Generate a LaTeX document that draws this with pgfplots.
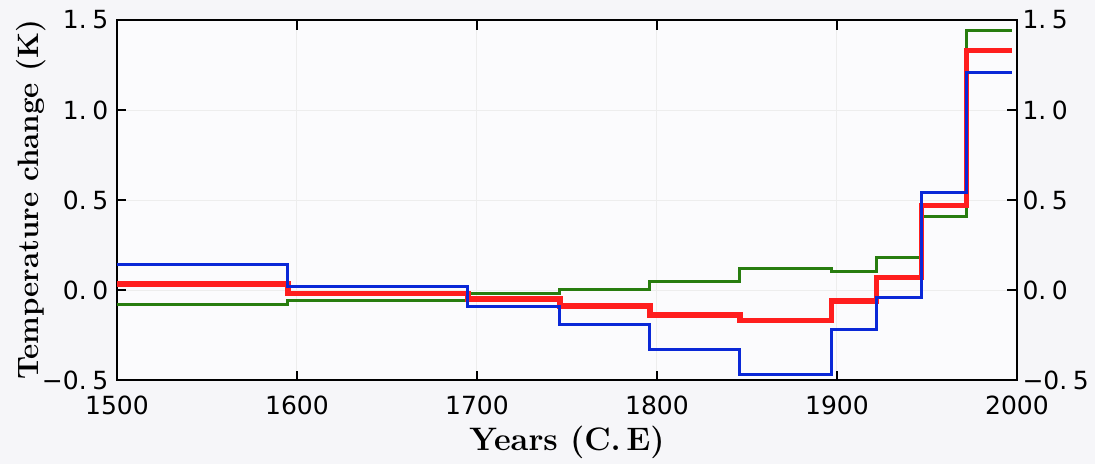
\documentclass[border=0pt]{standalone}
\usepackage{pgfplots}
\pgfplotsset{compat=1.18}
\usepackage{fontspec}
\newfontfamily\dejavu{DejaVu Sans}
\definecolor{bgc}{RGB}{246,246,249}
\definecolor{cblue}{RGB}{10,40,215}
\definecolor{cred}{RGB}{255,30,30}
\definecolor{cgreen}{RGB}{40,125,15}
\newcommand{\dg}{\hspace{0.22em}}
\begin{document}
\begin{tikzpicture}
\fill[bgc] (-46.8pt,-33.6pt) rectangle (391.2pt,152pt);
\begin{axis}[
  at={(0,0)}, anchor=south west,
  scale only axis, width=360pt, height=144pt,
  xmin=1500, xmax=2000, ymin=-0.5, ymax=1.5,
  xtick={1500,1600,1700,1800,1900,2000},
  xticklabels={1500,1600,1700,1800,1900,2000},
  ytick={-0.5,0,0.5,1,1.5},
  yticklabels={−0.\dg5,0.\dg0,0.\dg5,1.\dg0,1.\dg5},
  tick align=inside, major tick length=3.8pt,
  tick style={black, line width=0.6pt},
  ticklabel style={font=\dejavu\fontsize{10}{12}\selectfont},
  xticklabel style={yshift=-5pt, inner sep=1pt},
  axis line style={line width=0.7pt},
  grid=major, major grid style={black!7, line width=0.4pt},
  axis background/.style={fill=white!60!bgc},
  xlabel={\bfseries Years (C.\,E)},
  ylabel={\bfseries Temperature change (K)},
  xlabel style={font=\fontsize{13}{15}\selectfont, inner sep=1pt,
    at={(axis description cs:0.5,-0.172)}, anchor=center},
  ylabel style={font=\fontsize{11.8}{14}\selectfont, inner sep=1pt,
    at={(axis description cs:-0.095,0.5)}, anchor=center},
  const plot,
]
\addplot[cgreen, line width=1.2pt] coordinates {
  (1500,-0.08)(1595,-0.06)(1695,-0.02)(1746,0.005)(1796,0.05)(1846,0.12)
  (1897,0.105)(1922,0.18)(1947,0.41)(1972,1.44)(1997,1.44)};
\addplot[cred, line width=2.2pt] coordinates {
  (1500,0.033)(1595,-0.02)(1695,-0.05)(1746,-0.09)(1796,-0.14)(1846,-0.17)
  (1897,-0.06)(1922,0.07)(1947,0.47)(1972,1.33)(1997,1.33)};
\addplot[cblue, line width=1.2pt] coordinates {
  (1500,0.14)(1595,0.017)(1695,-0.09)(1746,-0.19)(1796,-0.33)(1846,-0.47)
  (1897,-0.22)(1922,-0.04)(1947,0.54)(1972,1.21)(1997,1.21)};
\end{axis}
\begin{axis}[
  at={(0,0)}, anchor=south west,
  scale only axis, width=360pt, height=144pt,
  xmin=1500, xmax=2000, ymin=-0.5, ymax=1.5,
  axis x line=none, axis y line*=right,
  y axis line style={draw=none},
  major tick length=0pt,
  ytick={-0.5,0,0.5,1,1.5},
  yticklabels={−0.\dg5,0.\dg0,0.\dg5,1.\dg0,1.\dg5},
  ticklabel style={font=\dejavu\fontsize{10}{12}\selectfont, inner sep=1pt},
  yticklabel style={xshift=1pt},
]
\end{axis}
\end{tikzpicture}
\end{document}
